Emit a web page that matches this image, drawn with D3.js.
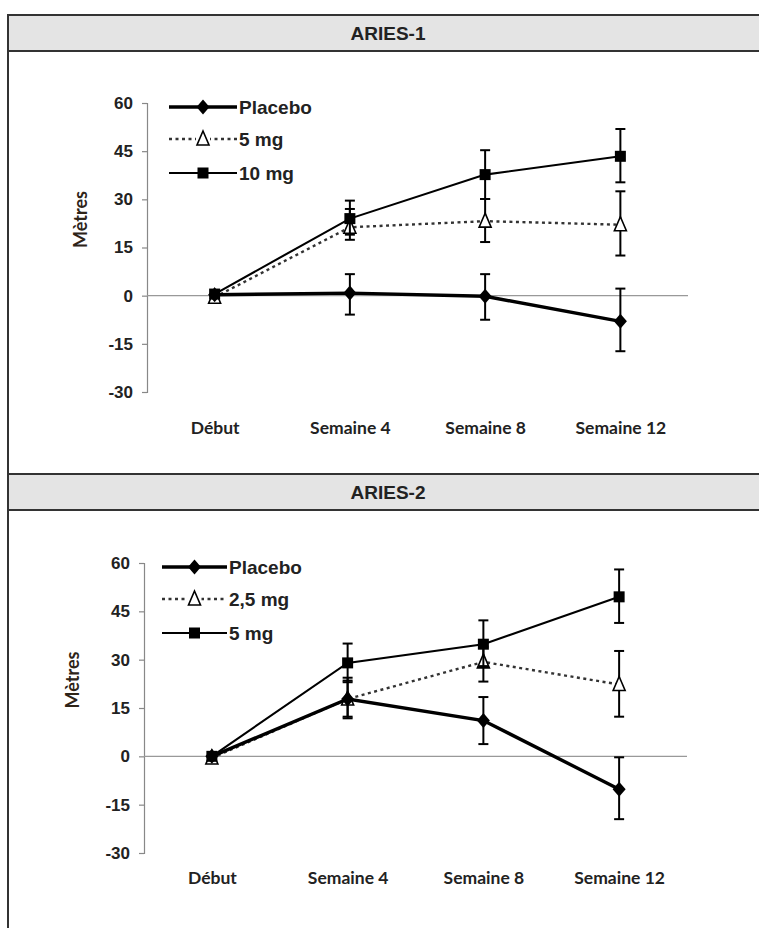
<!DOCTYPE html>
<html>
<head>
<meta charset="utf-8">
<script src="https://cdn.jsdelivr.net/npm/d3@7"></script>
<style>
  body { margin: 0; background: #fff; }
  svg { display: block; }
  .tick text { font-family: 'Liberation Sans', Arial, sans-serif; font-weight: bold; }
</style>
</head>
<body>
<svg id="vis" width="759" height="928"></svg>
<script>
// categories and ticks shared by both trials
const categories = ['Début', 'Semaine 4', 'Semaine 8', 'Semaine 12'];
const yTicks = [-30, -15, 0, 15, 30, 45, 60];

// ARIES-1 (mean change, metres) with error bar bounds
const aries1Placebo = [0.3, 0.8, -0.2, -8];
const aries1PlaceboLow = [null, -5.9, -7.5, -17.3];
const aries1PlaceboHigh = [null, 6.7, 6.7, 2.2];
const aries1Dose5 = [-0.5, 21.3, 23.2, 22.1];
const aries1Dose5Low = [null, 17.4, 16.7, 12.5];
const aries1Dose5High = [null, 27, 30.1, 32.5];
const aries1Dose10 = [0.5, 24, 37.7, 43.4];
const aries1Dose10Low = [null, 19, 30.1, 35.3];
const aries1Dose10High = [null, 29.6, 45.3, 51.9];

// ARIES-2
const aries2Placebo = [0, 17.8, 11.1, -10.2];
const aries2PlaceboLow = [null, 11.8, 3.8, -19.5];
const aries2PlaceboHigh = [null, 24.4, 18.4, -0.3];
const aries2Dose25 = [-0.5, 17.8, 29.3, 22.3];
const aries2Dose25Low = [null, 12.3, 23.2, 12.3];
const aries2Dose25High = [null, 23.5, 34, 32.7];
const aries2Dose5 = [0, 29, 34.8, 49.5];
const aries2Dose5Low = [null, 23, 28, 41.4];
const aries2Dose5High = [null, 35, 42.2, 58];

const styles = {
  placebo: { width: 3.4, dash: null, marker: 'diamond' },
  low: { width: 2.4, dash: '3,3.5', marker: 'triangle' },
  high: { width: 2.1, dash: null, marker: 'square' }
};

const panels = [
  {
    title: 'ARIES-1', top: 15, headerH: 36,
    x0: 147, x1: 688, yTop: 103, yBottom: 392, labelY: 432, yLabelX: 81,
    legendX: 169, legendRows: [107, 139, 173], legendLen: 68,
    series: [
      { name: 'Placebo', style: 'placebo', values: aries1Placebo, low: aries1PlaceboLow, high: aries1PlaceboHigh },
      { name: '5 mg', style: 'low', values: aries1Dose5, low: aries1Dose5Low, high: aries1Dose5High },
      { name: '10 mg', style: 'high', values: aries1Dose10, low: aries1Dose10Low, high: aries1Dose10High }
    ]
  },
  {
    title: 'ARIES-2', top: 474, headerH: 36,
    x0: 144, x1: 687, yTop: 563, yBottom: 853, labelY: 882, yLabelX: 73,
    legendX: 162, legendRows: [567, 599, 633], legendLen: 65,
    series: [
      { name: 'Placebo', style: 'placebo', values: aries2Placebo, low: aries2PlaceboLow, high: aries2PlaceboHigh },
      { name: '2,5 mg', style: 'low', values: aries2Dose25, low: aries2Dose25Low, high: aries2Dose25High },
      { name: '5 mg', style: 'high', values: aries2Dose5, low: aries2Dose5Low, high: aries2Dose5High }
    ]
  }
];

const svg = d3.select('#vis');

// outer frame: left border runs the full height, right edge is off-canvas
svg.append('rect')
  .attr('x', 8).attr('y', 15)
  .attr('width', 820).attr('height', 960)
  .attr('fill', '#fff').attr('stroke', '#333').attr('stroke-width', 2);

function drawMarker(g, type, cx, cy) {
  if (type === 'diamond') {
    g.append('path')
      .attr('d', `M${cx},${cy - 7.5}L${cx + 6.5},${cy}L${cx},${cy + 7.5}L${cx - 6.5},${cy}Z`)
      .attr('fill', '#000');
  } else if (type === 'square') {
    g.append('rect')
      .attr('x', cx - 5.5).attr('y', cy - 5.5)
      .attr('width', 11).attr('height', 11)
      .attr('fill', '#000');
  } else {
    g.append('path')
      .attr('d', `M${cx},${cy - 8}L${cx + 6},${cy + 6}L${cx - 6},${cy + 6}Z`)
      .attr('fill', '#fff').attr('stroke', '#000').attr('stroke-width', 1.6);
  }
}

panels.forEach(p => {
  const g = svg.append('g');

  // header band
  g.append('rect')
    .attr('x', 8).attr('y', p.top)
    .attr('width', 820).attr('height', p.headerH)
    .attr('fill', '#e4e4e4').attr('stroke', '#333').attr('stroke-width', 2);
  g.append('text')
    .attr('x', 388).attr('y', p.top + p.headerH / 2 + 7)
    .attr('text-anchor', 'middle')
    .style('font-family', "'Liberation Sans', Arial, sans-serif")
    .style('font-weight', 'bold')
    .style('font-size', '19px')
    .attr('fill', '#222')
    .text(p.title);

  const x = d3.scalePoint().domain(categories).range([p.x0, p.x1]).padding(0.5);
  const y = d3.scaleLinear().domain([-30, 60]).range([p.yBottom, p.yTop]);

  // y axis
  const yAxis = g.append('g')
    .attr('transform', `translate(${p.x0},0)`)
    .call(d3.axisLeft(y).tickValues(yTicks).tickFormat(d => String(d)).tickSize(5).tickPadding(9));
  yAxis.select('.domain').attr('stroke', '#888').attr('stroke-width', 1.2);
  yAxis.selectAll('.tick line').attr('stroke', '#888').attr('stroke-width', 1.2);
  yAxis.selectAll('.tick text')
    .style('font-size', '17px').attr('fill', '#222');

  // zero line
  g.append('line')
    .attr('x1', p.x0).attr('x2', p.x1)
    .attr('y1', y(0)).attr('y2', y(0))
    .attr('stroke', '#999').attr('stroke-width', 1.2);

  // x labels
  const xAxis = g.append('g')
    .attr('transform', `translate(0,${p.labelY - 14})`)
    .call(d3.axisBottom(x).tickSize(0).tickPadding(0));
  xAxis.select('.domain').remove();
  xAxis.selectAll('.tick text')
    .attr('dy', '0.9em')
    .style('font-family', "Lato, 'Open Sans', sans-serif")
    .style('font-weight', 'bold')
    .style('font-size', '17.5px')
    .attr('fill', '#222');

  // y title
  g.append('text')
    .attr('transform', `translate(${p.yLabelX},${(p.yTop + p.yBottom) / 2 - 28}) rotate(-90)`)
    .attr('text-anchor', 'middle')
    .attr('dy', '0.35em')
    .style('font-family', "Lato, 'Open Sans', sans-serif")
    .style('font-weight', 'bold')
    .style('font-size', '18px')
    .attr('fill', '#2e2418')
    .text('Mètres');

  const line = d3.line()
    .x((d, i) => x(categories[i]))
    .y(d => y(d));

  // draw order: low dose, high dose, placebo on top
  const order = [1, 2, 0];
  order.forEach(si => {
    const s = p.series[si];
    const st = styles[s.style];
    const sg = g.append('g');

    // error bars
    s.values.forEach((v, i) => {
      if (s.low[i] == null) return;
      const cx = x(categories[i]);
      sg.append('line')
        .attr('x1', cx).attr('x2', cx)
        .attr('y1', y(s.low[i])).attr('y2', y(s.high[i]))
        .attr('stroke', '#000').attr('stroke-width', 2);
      [s.low[i], s.high[i]].forEach(b => {
        sg.append('line')
          .attr('x1', cx - 5).attr('x2', cx + 5)
          .attr('y1', y(b)).attr('y2', y(b))
          .attr('stroke', '#000').attr('stroke-width', 2);
      });
    });

    sg.append('path')
      .attr('d', line(s.values))
      .attr('fill', 'none')
      .attr('stroke', st.dash ? '#333' : '#000')
      .attr('stroke-width', st.width)
      .attr('stroke-dasharray', st.dash);

    s.values.forEach((v, i) => drawMarker(sg, st.marker, x(categories[i]), y(v)));
  });

  // legend
  p.series.forEach((s, i) => {
    const st = styles[s.style];
    const ly = p.legendRows[i];
    const lg = g.append('g');
    lg.append('line')
      .attr('x1', p.legendX).attr('x2', p.legendX + p.legendLen)
      .attr('y1', ly).attr('y2', ly)
      .attr('stroke', st.dash ? '#333' : '#000')
      .attr('stroke-width', st.width)
      .attr('stroke-dasharray', st.dash);
    if (st.dash) {
      // gap behind the open triangle
      lg.append('rect')
        .attr('x', p.legendX + p.legendLen / 2 - 7).attr('y', ly - 9)
        .attr('width', 14).attr('height', 17).attr('fill', '#fff');
    }
    drawMarker(lg, st.marker, p.legendX + p.legendLen / 2, ly);
    lg.append('text')
      .attr('x', p.legendX + p.legendLen + 2).attr('y', ly)
      .attr('dy', '0.36em')
      .style('font-family', "'Liberation Sans', Arial, sans-serif")
      .style('font-weight', 'bold')
      .style('font-size', '19px')
      .attr('fill', '#222')
      .text(s.name);
  });
});
</script>
</body>
</html>
